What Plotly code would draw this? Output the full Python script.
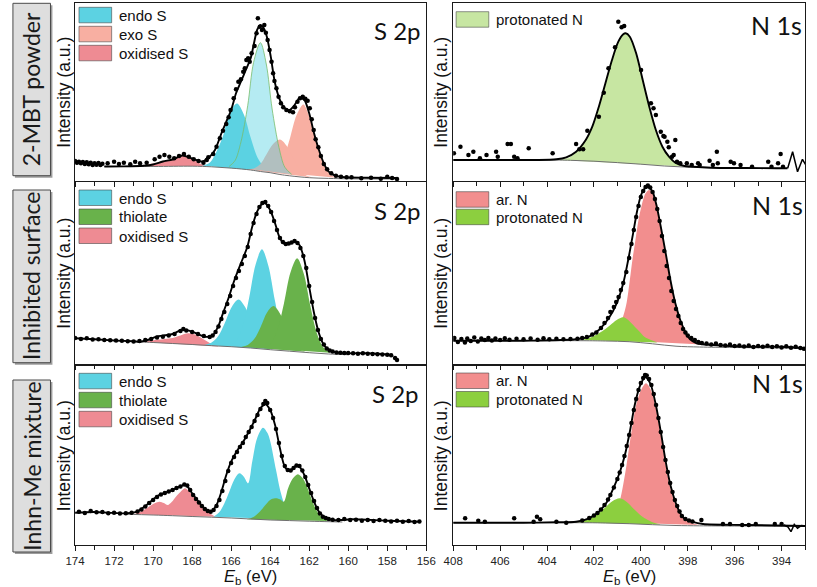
import plotly.graph_objects as go

W, H = 817, 587

# ---------------- colours ----------------
CYAN = "#5CD2E2"
CYAN_SOFT = "rgba(92,210,226,0.45)"
SALMON = "#F8AFA2"
PINK = "#EE8B93"
GREEN = "#69B24B"
ARN = "#F28E8E"
PROT_LIGHT = "#C7E6A2"
PROT = "#8CCF3F"

# ---------------- text ----------------
ROW_LABELS = ["2-MBT powder", "Inhibited surface", "Inhn-Me mixture"]
S_TITLE = "S 2p"
N_TITLE = "N 1s"
Y_TITLE = "Intensity (a.u.)"
X_TITLE = "<i>E</i><sub>b</sub> (eV)"
S_RANGE = [174, 156]
N_RANGE = [408, 393]

# ================= Row 1 left : 2-MBT powder, S 2p  (energy eV, intensity a.u.) =================
S1_BG = [(172.5, 14.5), (170, 14.5), (168, 14.8), (167, 14.2), (166, 12.9), (165, 11.0), (164.5, 9.5),
         (164, 8.3), (163.5, 6.5), (163, 5.2), (162, 3.3), (161, 2.6), (160, 2.2), (157.5, 2.0)]
S1_OXI = [(170.8, 15), (170.3, 16.3), (169.9, 18), (169.5, 19.5), (169.1, 21), (168.8, 23), (168.5, 25.5),
          (168.2, 24), (167.9, 21), (167.6, 17.5), (167.3, 15)]
S1_ENDO1 = [(167.5, 15.4), (167.1, 18.3), (166.8, 27.5), (166.4, 46), (166.1, 67.5), (165.7, 77.5),
            (165.35, 66.5), (165.0, 43.5), (164.65, 23.5), (164.3, 13.4), (164.0, 9.2)]
S1_ENDO2 = [(166.1, 14.6), (165.8, 20.4), (165.5, 38.9), (165.15, 75.6), (164.85, 118.6), (164.5, 138.3),
            (164.2, 117), (163.9, 72), (163.55, 33.6), (163.25, 13.8), (162.9, 6.7)]
S1_EXO1 = [(165.2, 11.6), (164.85, 12.5), (164.5, 16.9), (164.2, 26.2), (163.85, 36.9), (163.5, 41.5),
           (163.15, 35.1), (162.8, 22.2), (162.5, 11.4), (162.15, 5.4), (161.8, 3.4)]
S1_EXO2 = [(164.0, 9.3), (163.7, 11.7), (163.35, 21.5), (163.0, 41.8), (162.65, 65.7), (162.3, 76.6),
           (162.0, 64.7), (161.65, 39.5), (161.3, 18), (160.95, 7.1), (160.6, 3.3)]
S1_FIT = [(172.5, 14.5), (171.5, 14.6), (170.5, 15.3), (170.0, 16.5), (169.5, 19.5), (169.0, 21.5),
          (168.5, 25.5), (168.0, 22.5), (167.5, 19.5), (167.17, 23), (166.83, 31), (166.5, 47.7),
          (166.25, 59.3), (166.0, 71), (165.75, 87.7), (165.5, 99.3), (165.25, 111), (165.0, 122.7),
          (164.83, 137.7), (164.67, 151), (164.5, 156), (164.33, 152.7), (164.17, 144.3), (163.97, 124.3),
          (163.75, 97.7), (163.5, 81), (163.25, 72.7), (163.0, 71), (162.75, 76), (162.5, 82.7),
          (162.25, 81), (162.0, 67.7), (161.75, 47.7), (161.5, 31), (161.25, 17.7), (161.0, 9.3),
          (160.67, 5.3), (160.17, 3.7), (159.0, 3.3), (157.5, 3.0)]
S1_DATA = [(174.0, 20), (173.9, 18.3), (173.8, 19.3), (173.7, 17.7), (173.6, 19), (173.5, 17), (173.4, 18.7),
           (173.3, 16.7), (173.2, 18.3), (173.1, 16), (173.0, 17.7), (172.9, 16.3), (172.8, 18), (172.7, 16),
           (172.6, 17.3), (172.33, 17.7), (172.0, 19.3), (171.75, 17), (171.5, 18.3), (171.17, 16.7),
           (170.92, 19.3), (170.67, 17.7), (170.33, 18.3), (169.92, 21.7), (169.67, 24.3), (169.42, 26),
           (169.17, 24.3), (168.92, 22.7), (168.67, 25), (168.42, 27), (168.17, 24.3), (167.92, 21.7),
           (167.67, 20), (167.42, 18.3), (167.25, 21), (167.17, 23.7), (166.92, 27), (166.75, 34.3),
           (166.58, 42.7), (166.42, 50.3), (166.25, 57), (166.13, 63.7), (166.03, 71), (165.87, 82.7),
           (165.75, 91.7), (165.63, 99.3), (165.5, 101.7), (165.38, 109.3), (165.3, 112.7), (165.22, 121),
           (165.13, 122.7), (165.05, 119.3), (164.95, 127.7), (164.8, 135), (164.7, 147.7), (164.63, 162.7),
           (164.53, 154.3), (164.42, 151), (164.3, 156), (164.22, 148.3), (164.13, 141), (164.03, 131),
           (163.93, 119.3), (163.85, 107.7), (163.78, 100), (163.68, 92.7), (163.57, 84.3), (163.45, 77.7),
           (163.33, 73.7), (163.17, 71), (163.0, 69.7), (162.83, 68.7), (162.73, 73.7), (162.6, 79.3),
           (162.47, 82.7), (162.33, 84.3), (162.2, 82.3), (162.08, 80.3), (161.97, 72.7), (161.87, 61.7),
           (161.77, 51), (161.67, 41.7), (161.53, 33.7), (161.4, 25), (161.25, 17), (161.08, 11.7),
           (160.87, 7.7), (160.63, 5.3), (160.37, 4.3), (160.08, 3.7), (159.83, 3.7), (159.33, 2.7),
           (158.83, 3.3), (158.33, 2.3), (158.0, 4.3), (157.75, 3), (157.5, 2)]

# ================= Row 2 left : Inhibited surface, S 2p =================
S2_BG = [(171, 22.5), (170, 21.5), (169, 20.5), (168, 19.5), (167, 18.3), (166, 17.3), (165, 16),
         (164, 14.3), (163, 12.8), (162, 11.3), (161, 10), (160, 9.3)]
S2_OXI = [(170.7, 22.2), (170.2, 23), (169.8, 24.2), (169.4, 25), (169.0, 26), (168.6, 28.5), (168.2, 30.7),
          (167.8, 29), (167.4, 24.5), (167.0, 20), (166.6, 17.5)]
S2_ENDO1 = [(167.37, 19.1), (167.02, 21.2), (166.67, 27.8), (166.32, 41.3), (165.97, 57.1), (165.62, 64.4),
            (165.27, 56.4), (164.92, 39.7), (164.57, 25.2), (164.22, 17.7), (163.87, 14.7)]
S2_ENDO2 = [(166.07, 18.4), (165.74, 23), (165.41, 37.4), (165.08, 66), (164.75, 99.3), (164.42, 114.7),
            (164.09, 97.9), (163.76, 63.7), (163.43, 34.3), (163.1, 19.1), (162.77, 13.7)]
S2_THIO1 = [(165.48, 17.2), (165.15, 19), (164.82, 24.9), (164.49, 37.1), (164.16, 51.6), (163.83, 58),
            (163.5, 50.6), (163.17, 35), (162.84, 21.7), (162.51, 14.8), (162.18, 12.2)]
S2_THIO2 = [(164.32, 15.8), (163.98, 20.1), (163.64, 33.4), (163.3, 60.1), (162.96, 91.4), (162.62, 105.7),
            (162.28, 90.5), (161.94, 58.1), (161.6, 30.5), (161.26, 16.3), (160.92, 11.2)]
S2_FIT = [(174, 25.7), (173, 24.7), (172, 23.5), (171, 22.7), (170.67, 22.3), (170.2, 24.5), (169.83, 27.3),
          (169.4, 28.7), (169.0, 30), (168.5, 34.3), (168.0, 32.3), (167.6, 29), (167.33, 27.3),
          (167.17, 27.3), (166.92, 29), (166.67, 37.3), (166.42, 50.7), (166.17, 64), (165.83, 84),
          (165.5, 100.7), (165.17, 117.3), (164.92, 137.3), (164.67, 152.3), (164.42, 160), (164.25, 160.7),
          (164.0, 154), (163.75, 140.7), (163.5, 125.7), (163.25, 120), (163.0, 120.7), (162.75, 122.3),
          (162.5, 119), (162.25, 104), (162.0, 77.3), (161.75, 50.7), (161.5, 30.7), (161.25, 19),
          (161.0, 14), (160.5, 11.3), (160.0, 10.7), (159, 10.7), (158, 9.5), (157.75, 9)]
S2_DATA = [(174.0, 26), (173.7, 25), (173.4, 25.7), (173.1, 24.5), (172.8, 24.8), (172.5, 24), (172.2, 23.7),
           (171.9, 23.5), (171.6, 23.3), (171.3, 22.7), (171.0, 22.5), (170.7, 23), (170.4, 24), (170.1, 25),
           (169.8, 26.5), (169.5, 27.3), (169.2, 28.5), (168.9, 30), (168.6, 33), (168.45, 35), (168.3, 33.5),
           (168.0, 32), (167.7, 30), (167.4, 28), (167.1, 27), (166.95, 28.5), (166.8, 32), (166.65, 37.5),
           (166.5, 45), (166.35, 52), (166.2, 60), (166.05, 68), (165.9, 78), (165.75, 86), (165.6, 93),
           (165.45, 100), (165.3, 108), (165.15, 117), (165.0, 130), (164.85, 141), (164.7, 150),
           (164.55, 157), (164.4, 161), (164.25, 162), (164.1, 158), (163.95, 152), (163.8, 143),
           (163.65, 134), (163.5, 126), (163.35, 122), (163.2, 120), (163.05, 120.5), (162.9, 121.5),
           (162.75, 123), (162.6, 121), (162.45, 116), (162.3, 108), (162.15, 96), (162.0, 78), (161.85, 62),
           (161.7, 46), (161.55, 34), (161.4, 25), (161.25, 19.5), (161.1, 15.5), (160.95, 13.5),
           (160.8, 12.5), (160.6, 11.5), (160.4, 11.3), (160.2, 11), (160.0, 11), (159.75, 10.7),
           (159.5, 10.3), (159.25, 10.7), (159.0, 10.3), (158.75, 10), (158.5, 9.7), (158.25, 9.5),
           (158.0, 9.3), (157.8, 8.7), (157.6, 6), (157.5, 4)]

# ================= Row 3 left : Inhn-Me mixture, S 2p =================
S3_BG = [(171.5, 30.8), (170, 30), (169, 29.3), (168, 28.5), (167, 27.8), (166, 27), (165, 26), (164, 25),
         (163, 24.4), (162, 23.8), (161, 23.3), (160.3, 23)]
S3_OXI = [(171.0, 30.7), (170.67, 33), (170.33, 36.7), (170.0, 41), (169.67, 43.3), (169.45, 42),
          (169.25, 40), (169.05, 43), (168.83, 48.3), (168.6, 53), (168.37, 56.7), (168.15, 53.5),
          (167.9, 47.5), (167.67, 42.7), (167.45, 38), (167.25, 34), (167.0, 30.5), (166.8, 28.3)]
S3_ENDO = [(166.9, 28.2), (166.6, 33), (166.35, 41.5), (166.1, 53), (165.85, 65), (165.58, 71.7),
           (165.35, 68.3), (165.13, 61.7), (164.92, 83.3), (164.67, 106.7), (164.37, 117.3), (164.13, 111.7),
           (164.0, 104), (163.7, 75), (163.45, 52), (163.2, 37), (162.95, 30), (162.7, 27), (162.45, 25)]
S3_THIO = [(165.2, 25.7), (164.83, 28.3), (164.5, 34), (164.2, 41), (164.0, 45), (163.75, 46.7),
           (163.5, 45.7), (163.3, 43.3), (163.08, 56.7), (162.83, 66.7), (162.58, 70.7), (162.33, 66.7),
           (162.08, 56.7), (161.83, 43.3), (161.58, 33.3), (161.33, 27.3), (161.0, 24)]
S3_FIT = [(174, 32.3), (173, 33), (172, 32), (171.33, 31.7), (170.83, 33.3), (170.33, 40), (169.83, 48.3),
          (169.33, 52.7), (168.83, 56.7), (168.33, 60), (168.0, 51.7), (167.67, 43.3), (167.33, 36),
          (167.03, 33.3), (166.75, 40), (166.5, 53.3), (166.25, 70), (166.0, 83.3), (165.67, 95),
          (165.33, 105), (165.0, 116.7), (164.75, 126.7), (164.5, 136.7), (164.25, 140.7), (164.0, 135),
          (163.75, 120), (163.5, 96.7), (163.25, 78.3), (163.0, 74), (162.75, 78.3), (162.5, 78.3),
          (162.25, 70), (162.0, 56.7), (161.75, 43.3), (161.5, 33.3), (161.17, 27.3), (160.83, 25),
          (160.33, 25), (159.83, 25.7), (158, 24.3), (156.33, 23.3)]
S3_DATA = [(173.8, 33.3), (173.5, 32), (173.2, 34), (172.9, 32.7), (172.6, 33), (172.3, 31.7), (172.0, 32.3),
           (171.7, 31.5), (171.4, 31.7), (171.1, 32.3), (170.8, 33.5), (170.6, 35.5), (170.4, 38.5),
           (170.2, 42), (170.0, 45), (169.8, 48), (169.6, 50.5), (169.4, 52), (169.2, 53.5), (169.0, 55),
           (168.8, 57), (168.6, 58.5), (168.4, 60.5), (168.25, 59.5), (168.1, 55), (167.95, 50), (167.8, 46),
           (167.65, 42.5), (167.5, 39), (167.35, 36), (167.2, 34), (167.05, 33.3), (166.9, 35), (166.75, 39),
           (166.6, 45), (166.45, 54), (166.3, 64), (166.15, 74), (166.0, 82), (165.85, 88), (165.7, 93),
           (165.55, 98), (165.4, 102), (165.25, 108), (165.1, 113), (164.95, 118), (164.8, 124),
           (164.65, 130), (164.5, 136), (164.35, 141), (164.25, 144), (164.15, 142), (164.0, 135),
           (163.85, 127), (163.7, 116), (163.55, 102), (163.4, 89), (163.25, 79), (163.1, 75), (162.95, 74.5),
           (162.8, 77), (162.65, 79.5), (162.5, 79), (162.35, 74.5), (162.2, 68), (162.05, 60), (161.9, 52),
           (161.75, 44), (161.6, 37), (161.45, 31.5), (161.3, 28.3), (161.15, 27), (161.0, 26), (160.8, 25.3),
           (160.5, 25), (160.2, 26), (159.9, 25), (159.6, 25.3), (159.3, 24.3), (159.0, 25), (158.7, 24),
           (158.4, 25), (158.1, 24.3), (157.8, 23.5), (157.5, 24.3), (157.2, 23.3), (156.9, 24), (156.6, 23),
           (156.35, 23.5)]

# ================= Row 1 right : 2-MBT powder, N 1s =================
N1_BG = [(408, 21), (404, 21), (403, 20.7), (402, 19.8), (401, 18.4), (400, 16.8), (399, 15), (398, 13.8),
         (397, 13.3), (395, 12.8), (393.75, 12.7)]
N1_PROT = [(403.5, 21), (403.0, 24), (402.7, 31), (402.35, 41), (402.07, 54.3), (401.79, 74.3),
           (401.51, 97.7), (401.23, 121), (400.96, 139.3), (400.75, 146.7), (400.65, 147.7), (400.47, 144.3),
           (400.2, 127.7), (399.92, 101), (399.64, 74.3), (399.36, 51), (399.08, 34.3), (398.8, 24.3),
           (398.53, 18.3), (398.18, 15.3), (397.8, 14)]
N1_FIT = [(408, 21), (406, 21), (404.5, 21), (403.6, 21.7), (403.18, 23.7), (402.76, 29.3), (402.35, 41),
          (402.07, 54.3), (401.79, 74.3), (401.51, 97.7), (401.23, 121), (400.96, 139.3), (400.75, 146.7),
          (400.65, 147.7), (400.47, 144.3), (400.2, 127.7), (399.92, 101), (399.64, 74.3), (399.36, 51),
          (399.08, 34.3), (398.8, 24.3), (398.53, 18.3), (398.18, 15.3), (397.76, 14.3), (397, 13.3),
          (395.5, 13), (394.2, 12.7), (393.75, 12.7)]
N1_TAIL = [(393.74, 12.7), (393.53, 29.3), (393.32, 9.3), (393.11, 21.7), (392.97, 16)]
N1_DATA = [(407.97, 27.7), (407.69, 34.3), (407.35, 26), (407.14, 29.3), (406.86, 22.7), (406.58, 26),
           (406.17, 29.3), (406.1, 24.3), (405.68, 37), (405.54, 37), (405.4, 24.3), (405.26, 22.7),
           (404.78, 32.7), (403.76, 27.7), (402.76, 37), (402.62, 31.7), (402.46, 31.7), (402.28, 50.3),
           (401.79, 64.3), (401.58, 88.3), (401.38, 112.7), (401.1, 133.7), (400.96, 159.3), (400.82, 153.7),
           (400.71, 155), (399.99, 111), (399.57, 77.7), (399.46, 72.7), (399.36, 66), (399.15, 49.3),
           (399.04, 45), (398.99, 44.3), (398.87, 39.3), (398.81, 33.7), (398.67, 24.3), (398.6, 26),
           (398.53, 41), (398.46, 19.3), (398.32, 17.7), (398.04, 17.7), (397.83, 16), (397.56, 17.7),
           (397.49, 16), (397.07, 20.3), (396.93, 16), (396.76, 29.3), (396.72, 17.7), (396.17, 19.3),
           (396.03, 17.7), (395.75, 16), (395.26, 14.3), (394.57, 19.3), (394.43, 14.3), (394.15, 17.7),
           (394.04, 27), (393.94, 14.3)]

# ================= Row 2 right : Inhibited surface, N 1s =================
N2_BG = [(408, 23.3), (402.5, 23.3), (401.5, 23), (400.5, 22.3), (399.5, 20.2), (398.5, 17.8), (397.5, 17),
         (396, 16.5), (393, 15.7)]
N2_AR = [(401.6, 24.5), (401.2, 30), (400.9, 40), (400.75, 48), (400.6, 62), (400.47, 84), (400.36, 104),
         (400.23, 124), (400.1, 144), (399.96, 159), (399.8, 170.7), (399.64, 174), (399.47, 169),
         (399.32, 155.7), (399.15, 137.3), (398.94, 110.7), (398.74, 84), (398.53, 60.7), (398.32, 44),
         (398.11, 32.3), (397.9, 24.5), (397.69, 21.2), (397.4, 19.5)]
N2_PROT = [(402.5, 24), (402.07, 27.3), (401.79, 30.7), (401.51, 35), (401.3, 39), (401.03, 44),
           (400.75, 46.7), (400.54, 44), (400.26, 37.3), (400.05, 32.3), (399.85, 27.3), (399.57, 24),
           (399.29, 21.5)]
N2_FIT = [(408, 23.3), (405, 23.3), (402.76, 24.7), (402.21, 27.3), (401.79, 34), (401.37, 45.7),
          (401.03, 60.7), (400.75, 80.7), (400.54, 104), (400.33, 130.7), (400.15, 154), (399.99, 169),
          (399.82, 175.7), (399.67, 176.7), (399.5, 172.3), (399.32, 157.3), (399.15, 137.3), (398.94, 110.7),
          (398.74, 84), (398.53, 60.7), (398.32, 44), (398.11, 32.3), (397.9, 24.7), (397.62, 20.7),
          (396.93, 19), (395.5, 17.3), (394, 17.3), (393, 15.7)]
N2_DATA = [(407.95, 26), (407.8, 22), (407.65, 25), (407.5, 21.5), (407.4, 25.5), (407.25, 23), (407.1, 26.5),
           (406.95, 22.5), (406.8, 25.5), (406.65, 24), (406.5, 26), (406.35, 23.5), (406.2, 25.5), (406.0, 24),
           (405.8, 25.7), (405.6, 24.3), (405.3, 25.3), (405.0, 24.7), (404.7, 25.5), (404.4, 24.3),
           (404.15, 25.7), (403.9, 24.7), (403.6, 25.3), (403.3, 24.7), (403.0, 25), (402.7, 25.3),
           (402.5, 26), (402.3, 27), (402.07, 29.5), (401.9, 31.5), (401.7, 36), (401.55, 41), (401.4, 46),
           (401.3, 52), (401.15, 57), (401.05, 62), (400.95, 67), (400.85, 74), (400.75, 81), (400.62, 92),
           (400.5, 106), (400.4, 120), (400.3, 134), (400.2, 147), (400.1, 158), (400.0, 167), (399.9, 173),
           (399.8, 177), (399.7, 178.5), (399.6, 176.5), (399.5, 172), (399.4, 165), (399.3, 155),
           (399.2, 143), (399.1, 128), (399.0, 113), (398.9, 98), (398.8, 86), (398.7, 73), (398.6, 63),
           (398.5, 55), (398.4, 48), (398.3, 41), (398.2, 35), (398.1, 31.5), (398.0, 28.5), (397.85, 26),
           (397.7, 24), (397.55, 22), (397.4, 21), (397.2, 20.5), (397.0, 19.5), (396.8, 20.5), (396.6, 19),
           (396.4, 18.5), (396.2, 19.5), (396.0, 18), (395.8, 18.5), (395.6, 17.5), (395.4, 18.5),
           (395.2, 17), (395.0, 18), (394.8, 17.3), (394.6, 18.3), (394.4, 17), (394.2, 17.7), (394.0, 16.5),
           (393.8, 17.7), (393.6, 16.3), (393.4, 17.3), (393.2, 16), (393.05, 15.3)]

# ================= Row 3 right : Inhn-Me mixture, N 1s =================
N3_BG = [(408, 22.3), (402.5, 22.3), (401.5, 22), (400.5, 21.3), (399.5, 20.3), (398.5, 19.5), (397.5, 19.2),
         (396, 19), (393, 18.8)]
N3_AR = [(401.6, 23), (401.2, 28), (400.95, 40), (400.82, 52), (400.61, 80), (400.4, 113.3), (400.2, 140),
         (399.99, 155), (399.78, 161.7), (399.57, 155), (399.36, 136.7), (399.15, 110), (398.94, 80),
         (398.74, 56.7), (398.46, 36.7), (398.18, 27.3), (397.83, 22), (397.5, 20)]
N3_PROT = [(402.8, 22.5), (402.4, 24.5), (402.1, 27.5), (401.8, 32), (401.5, 38), (401.2, 44), (400.9, 46.7),
           (400.6, 43), (400.3, 36), (400.0, 29.5), (399.7, 25), (399.4, 22), (399.1, 20.5)]
N3_FIT = [(408, 22.3), (405, 22.3), (403.6, 22.7), (402.76, 23.3), (402.21, 26.7), (401.79, 33.3),
          (401.44, 43.3), (401.17, 56.7), (400.89, 73.3), (400.68, 90), (400.47, 113.3), (400.26, 140),
          (400.05, 158.3), (399.87, 166.7), (399.8, 168), (399.73, 166.7), (399.57, 160), (399.36, 140),
          (399.15, 113.3), (398.94, 83.3), (398.74, 60), (398.53, 43.3), (398.32, 31.7), (398.11, 25.7),
          (397.83, 23.3), (397.35, 21), (395.5, 20), (393, 19)]
N3_TAIL = [(393.9, 20), (393.74, 18.3), (393.6, 13.3), (393.46, 20.5), (393.32, 16.7), (393.15, 19.5),
           (393.0, 19)]
N3_DATA = [(407.49, 26.7), (406.93, 24.3), (406.65, 23.3), (405.4, 26.7), (404.57, 23.3), (404.43, 28.3),
           (404.29, 25.7), (403.6, 23.3), (403.18, 22.3), (402.5, 24.5), (402.2, 27), (402.0, 29.5),
           (401.85, 32), (401.7, 35.5), (401.55, 40), (401.4, 45.5), (401.3, 50), (401.15, 57.5), (401.0, 66),
           (400.9, 72.5), (400.8, 80), (400.7, 89), (400.6, 99), (400.5, 110), (400.4, 122), (400.3, 135),
           (400.2, 146), (400.1, 155), (400.0, 162), (399.9, 167), (399.82, 170), (399.75, 169.5),
           (399.65, 166), (399.55, 160), (399.45, 151), (399.35, 140), (399.25, 127), (399.15, 113),
           (399.05, 98), (398.95, 85), (398.85, 73), (398.75, 62), (398.65, 53), (398.55, 45), (398.45, 39),
           (398.35, 33.5), (398.25, 29), (398.1, 26), (397.95, 24.5), (397.8, 23.5), (397.42, 25),
           (396.5, 21), (396.2, 21), (395.68, 20), (395.4, 20), (395.1, 21), (394.29, 21), (394.0, 21)]

# ---------------- legends ----------------
LEG_S1 = [("endo S", CYAN), ("exo S", SALMON), ("oxidised S", PINK)]
LEG_S23 = [("endo S", CYAN), ("thiolate", GREEN), ("oxidised S", PINK)]
LEG_N1 = [("protonated N", PROT_LIGHT)]
LEG_N23 = [("ar. N", ARN), ("protonated N", PROT)]

# ---------------- geometry (pixels) ----------------
XL = [66.7, 426.7]
XR = [454.3, 815.0]
ROWS = [(3, 181), (182, 364), (366, 545)]
YMAX = [178, 182, 179]


def px(x):
    return x / W


def py(y):
    return 1 - y / H


def xy(pts):
    return [p[0] for p in pts], [p[1] for p in pts]


fig = go.Figure()

panels = [
    # (axis index, components, bg, fit, data, tail)
    (1, [(S1_OXI, PINK, None), (S1_ENDO1, CYAN, None), (S1_EXO2, SALMON, None), (S1_EXO1, SALMON, None),
         (S1_ENDO2, CYAN_SOFT, "rgba(120,190,110,0.9)")], S1_BG, S1_FIT, S1_DATA, None),
    (2, [(N1_PROT, PROT_LIGHT, None)], N1_BG, N1_FIT, N1_DATA, N1_TAIL),
    (3, [(S2_OXI, PINK, None), (S2_ENDO1, CYAN, None), (S2_ENDO2, CYAN, None), (S2_THIO1, GREEN, None),
         (S2_THIO2, GREEN, None)], S2_BG, S2_FIT, S2_DATA, None),
    (4, [(N2_AR, ARN, None), (N2_PROT, PROT, None)], N2_BG, N2_FIT, N2_DATA, None),
    (5, [(S3_OXI, PINK, None), (S3_ENDO, CYAN, None), (S3_THIO, GREEN, None)], S3_BG, S3_FIT, S3_DATA, None),
    (6, [(N3_AR, ARN, None), (N3_PROT, PROT, None)], N3_BG, N3_FIT, N3_DATA, N3_TAIL),
]

for idx, comps, bg, fit, data, tail in panels:
    xa = "x" if idx == 1 else f"x{idx}"
    ya = "y" if idx == 1 else f"y{idx}"
    for pts, col, outline in comps:
        x, y = xy(pts)
        fig.add_trace(go.Scatter(
            x=x, y=y, mode="lines", fill="toself", fillcolor=col,
            line=dict(width=0.9 if outline else 0, color=outline or col, shape="spline", smoothing=0.9),
            xaxis=xa, yaxis=ya, hoverinfo="skip", showlegend=False))
    x, y = xy(bg)
    fig.add_trace(go.Scatter(x=x, y=y, mode="lines", line=dict(color="#6f6f6f", width=1, shape="spline"),
                             xaxis=xa, yaxis=ya, hoverinfo="skip", showlegend=False))
    x, y = xy(fit)
    fig.add_trace(go.Scatter(x=x, y=y, mode="lines",
                             line=dict(color="#000000", width=1.9, shape="spline", smoothing=0.8),
                             xaxis=xa, yaxis=ya, hoverinfo="skip", showlegend=False))
    if tail:
        x, y = xy(tail)
        fig.add_trace(go.Scatter(x=x, y=y, mode="lines", line=dict(color="#000000", width=1.5),
                                 xaxis=xa, yaxis=ya, hoverinfo="skip", showlegend=False))
    x, y = xy(data)
    fig.add_trace(go.Scatter(x=x, y=y, mode="markers", marker=dict(color="#000000", size=4.5),
                             xaxis=xa, yaxis=ya, hoverinfo="skip", showlegend=False))

AXC = "#1a1a1a"
layout = dict(width=W, height=H, margin=dict(l=0, r=0, t=0, b=0), paper_bgcolor="white",
              plot_bgcolor="white", showlegend=False)

for idx in range(1, 7):
    row = (idx - 1) // 2
    left = idx % 2 == 1
    xd = XL if left else XR
    r0, r1 = ROWS[row]
    xname = "xaxis" if idx == 1 else f"xaxis{idx}"
    yname = "yaxis" if idx == 1 else f"yaxis{idx}"
    layout[xname] = dict(
        domain=[px(xd[0]), px(xd[1])], range=S_RANGE if left else N_RANGE,
        anchor="y" if idx == 1 else f"y{idx}",
        showline=True, linecolor=AXC, linewidth=1.3, mirror=True,
        ticks="outside", ticklen=5, tickwidth=1.2, tickcolor=AXC, dtick=2, tick0=0,
        minor=dict(dtick=1, ticks="outside", ticklen=3.5, tickwidth=1, tickcolor=AXC, showgrid=False),
        showgrid=False, zeroline=False, showticklabels=(row == 2),
        tickfont=dict(family="Liberation Sans, Arial", size=11.5, color="#222222"))
    layout[yname] = dict(
        domain=[py(r1), py(r0)], range=[0, YMAX[row]], anchor="x" if idx == 1 else f"x{idx}",
        showline=True, linecolor=AXC, linewidth=1.3, mirror=True, ticks="",
        showticklabels=False, showgrid=False, zeroline=False)

annotations = []
shapes = []

# y titles and panel titles
for row in range(3):
    r0, r1 = ROWS[row]
    yc = (r0 + r1) / 2
    for xc in (55, 441.5):
        annotations.append(dict(x=px(xc), y=py(yc), xref="paper", yref="paper", text=Y_TITLE,
                                textangle=-90, showarrow=False, xanchor="center", yanchor="middle",
                                font=dict(family="Liberation Sans, Arial", size=17.5, color="#111111")))
S_TITLE_POS = [(397, 30), (397, 210), (395, 393)]
N_TITLE_POS = [(786, 25), (787, 205), (787, 383)]
for (sx, sy), (nx, ny) in zip(S_TITLE_POS, N_TITLE_POS):
    annotations.append(dict(x=px(sx), y=py(sy), xref="paper", yref="paper", text=S_TITLE, showarrow=False,
                            xanchor="center", yanchor="middle",
                            font=dict(family="Lato, Open Sans", size=24, color="#111111")))
    annotations.append(dict(x=px(nx), y=py(ny), xref="paper", yref="paper", text=N_TITLE, showarrow=False,
                            xanchor="center", yanchor="middle",
                            font=dict(family="Lato, Open Sans", size=25, color="#111111")))

# x titles
for xc in ((XL[0] + XL[1]) / 2, (XR[0] + XR[1]) / 2):
    annotations.append(dict(x=px(xc), y=py(577), xref="paper", yref="paper", text=X_TITLE, showarrow=False,
                            xanchor="center", yanchor="middle",
                            font=dict(family="Liberation Sans, Arial", size=16.5, color="#111111")))

# row label boxes
BOXES = [(3.3, 175.7), (190, 362.7), (380, 552)]
for lab, (b0, b1) in zip(ROW_LABELS, BOXES):
    shapes.append(dict(type="rect", xref="paper", yref="paper", x0=px(5), x1=px(43.5), y0=py(b1 + 2),
                       y1=py(b0 + 2), fillcolor="#9c9c9c", line=dict(width=0), layer="above"))
    shapes.append(dict(type="rect", xref="paper", yref="paper", x0=px(3), x1=px(41.5), y0=py(b1),
                       y1=py(b0), fillcolor="#dedede", line=dict(color="#4a4a4a", width=1), layer="above"))
    annotations.append(dict(x=px(22.3), y=py((b0 + b1) / 2), xref="paper", yref="paper", text=lab,
                            textangle=-90, showarrow=False, xanchor="center", yanchor="middle",
                            font=dict(family="Lato, Open Sans", size=23, color="#1a1a1a")))

# legends
LEGENDS = [(LEG_S1, 70.7, 7.3, 19), (LEG_N1, 457.3, 11.7, 18), (LEG_S23, 70.7, 190, 19),
           (LEG_N23, 457.3, 191.7, 17.5), (LEG_S23, 70.7, 373.3, 19), (LEG_N23, 457.3, 373, 18.5)]
for entries, lx, ty, step in LEGENDS:
    for k, (lab, col) in enumerate(entries):
        top = ty + k * step
        shapes.append(dict(type="rect", xref="paper", yref="paper", x0=px(lx), x1=px(lx + 33.5),
                           y0=py(top + 15.5), y1=py(top), fillcolor=col,
                           line=dict(color="rgba(60,60,60,0.55)", width=1), layer="above"))
        annotations.append(dict(x=px(lx + 38.5), y=py(top + 8), xref="paper", yref="paper", text=lab,
                                showarrow=False, xanchor="left", yanchor="middle",
                                font=dict(family="Liberation Sans, Arial", size=15, color="#111111")))

layout["annotations"] = annotations
layout["shapes"] = shapes
fig.update_layout(**layout)
fig.write_html("out.html", config={"displayModeBar": False},
               post_script="document.body.style.margin='0px';document.body.style.overflow='hidden';")
